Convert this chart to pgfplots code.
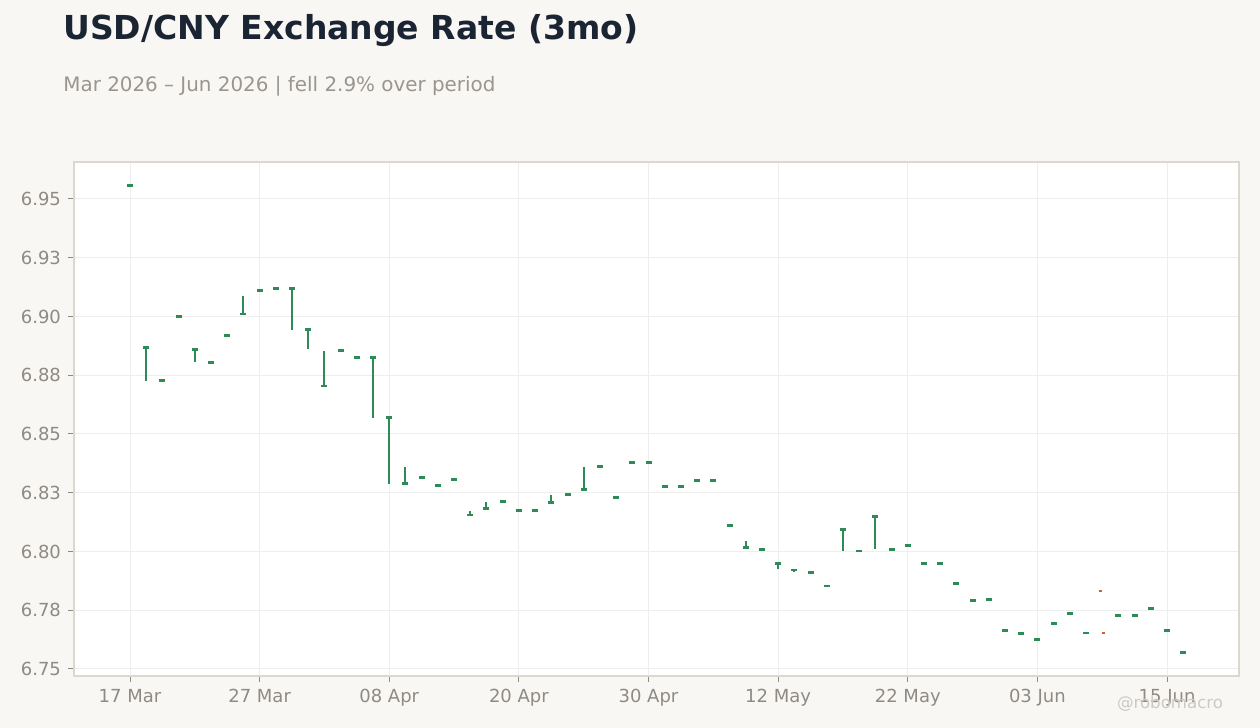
\documentclass[border=0pt]{standalone}
\usepackage{fontspec}
\setmainfont{DejaVu Sans}
\usepackage{pgfplots}
\pgfplotsset{compat=1.18}
\usepackage{pgfplotstable}
\definecolor{bg}{HTML}{F8F7F4}
\definecolor{upc}{HTML}{2E8B57}
\definecolor{dnc}{HTML}{D9573B}
\definecolor{titlec}{HTML}{1B2433}
\definecolor{subc}{HTML}{9A9590}
\definecolor{tickc}{HTML}{8F8A85}
\definecolor{framec}{HTML}{DDD8CF}
\definecolor{gridc}{HTML}{EEEEEE}
\definecolor{wmc}{HTML}{CDC9C4}

\pgfplotstableread{
x o h l c
0 6.9557 6.9557 6.9557 6.9557
1 6.8867 6.8867 6.8727 6.8867
2 6.8727 6.8727 6.8727 6.8727
3 6.8999 6.8999 6.8999 6.8999
4 6.8859 6.8859 6.8805 6.8859
5 6.8803 6.8803 6.8803 6.8803
6 6.8918 6.8918 6.8918 6.8918
7 6.9011 6.9087 6.9011 6.9011
8 6.9110 6.9110 6.9110 6.9110
9 6.9118 6.9118 6.9118 6.9118
10 6.9118 6.9118 6.8944 6.9118
11 6.8944 6.8944 6.8863 6.8944
12 6.8704 6.8853 6.8704 6.8704
13 6.8854 6.8854 6.8854 6.8854
14 6.8825 6.8825 6.8825 6.8825
15 6.8825 6.8825 6.8570 6.8825
16 6.8570 6.8570 6.8289 6.8570
17 6.8289 6.8360 6.8289 6.8289
18 6.8314 6.8314 6.8314 6.8314
19 6.8280 6.8280 6.8280 6.8280
20 6.8306 6.8306 6.8306 6.8306
21 6.8155 6.8172 6.8155 6.8155
22 6.8182 6.8211 6.8182 6.8182
23 6.8212 6.8212 6.8212 6.8212
24 6.8174 6.8174 6.8174 6.8174
25 6.8174 6.8174 6.8174 6.8174
26 6.8208 6.8240 6.8208 6.8208
27 6.8242 6.8242 6.8242 6.8242
28 6.8263 6.8360 6.8263 6.8263
29 6.8361 6.8361 6.8361 6.8361
30 6.8229 6.8229 6.8229 6.8229
31 6.8378 6.8378 6.8378 6.8378
32 6.8378 6.8378 6.8378 6.8378
33 6.8276 6.8276 6.8276 6.8276
34 6.8276 6.8276 6.8276 6.8276
35 6.8301 6.8301 6.8301 6.8301
36 6.8301 6.8301 6.8301 6.8301
37 6.8110 6.8110 6.8110 6.8110
38 6.8016 6.8045 6.8016 6.8016
39 6.8008 6.8008 6.8008 6.8008
40 6.7948 6.7948 6.7924 6.7948
41 6.7922 6.7922 6.7911 6.7922
42 6.7910 6.7910 6.7910 6.7910
43 6.7854 6.7854 6.7854 6.7854
44 6.8093 6.8093 6.8004 6.8093
45 6.8002 6.8002 6.8002 6.8002
46 6.8148 6.8148 6.8009 6.8148
47 6.8008 6.8008 6.8008 6.8008
48 6.8025 6.8025 6.8025 6.8025
49 6.7948 6.7948 6.7948 6.7948
50 6.7948 6.7948 6.7948 6.7948
51 6.7863 6.7863 6.7863 6.7863
52 6.7791 6.7791 6.7791 6.7791
53 6.7795 6.7795 6.7795 6.7795
54 6.7663 6.7663 6.7663 6.7663
55 6.7650 6.7650 6.7650 6.7650
56 6.7625 6.7625 6.7625 6.7625
57 6.7693 6.7693 6.7693 6.7693
58 6.7735 6.7735 6.7735 6.7735
59 6.7654 6.7654 6.7654 6.7654
61 6.7727 6.7727 6.7727 6.7727
62 6.7727 6.7727 6.7727 6.7727
63 6.7757 6.7757 6.7757 6.7757
64 6.7663 6.7663 6.7663 6.7663
65 6.7569 6.7569 6.7569 6.7569
}\up

\pgfplotstableread{
x c
59.88 6.7833
60.07 6.7654
}\down

\begin{document}
\begin{tikzpicture}
\fill[bg] (0,0) rectangle (630pt,364pt);
\useasboundingbox (0,0) rectangle (630pt,364pt);
\node[anchor=base west, inner sep=0pt, text=titlec, font=\fontsize{16.5}{19}\selectfont\bfseries] at (31.5pt,344.4pt) {USD/CNY Exchange Rate (3mo)};
\node[anchor=base west, inner sep=0pt, text=subc, font=\fontsize{9.95}{12}\selectfont] at (31.5pt,318.2pt) {Mar 2026 – Jun 2026 | fell 2.9\% over period};
\begin{axis}[
  at={(37pt,26pt)}, anchor=south west,
  scale only axis, width=582.5pt, height=257pt,
  xmin=-3.456, xmax=68.44,
  ymin=6.74702, ymax=6.96574,
  axis background/.style={fill=white},
  axis line style={framec, line width=0.6pt},
  xtick={0,8,16,24,32,40,48,56,64},
  xticklabels={17 Mar,27 Mar,08 Apr,20 Apr,30 Apr,12 May,22 May,03 Jun,15 Jun},
  ytick={6.75,6.775,6.8,6.825,6.85,6.875,6.9,6.925,6.95},
  yticklabels={6.75,6.78,6.80,6.83,6.85,6.88,6.90,6.93,6.95},
  tick align=outside, major tick length=3pt,
  tick style={tickc, line width=0.5pt},
  xtick pos=bottom, ytick pos=left,
  ticklabel style={font=\fontsize{9}{11}\selectfont, text=tickc},
  grid=major, major grid style={gridc, line width=0.5pt},
  clip=false,
]
% wicks: low -> high segments
\addplot[upc, line width=1pt, line cap=butt,
  quiver={u=0, v=\thisrow{h}-\thisrow{l}}]
  table[x=x, y=l] {\up};
% bodies
\addplot[upc, only marks, mark=-, mark size=1.5pt, mark options={line width=1.3pt}]
  table[x=x, y=c] {\up};
\addplot[dnc, only marks, mark=-, mark size=0.8pt, mark options={line width=1.1pt}]
  table[x=x, y=c] {\down};
\end{axis}
\node[text=wmc, font=\fontsize{8.3}{10}\selectfont, inner sep=0pt] at (585pt,12pt) {@robomacro};
\end{tikzpicture}
\end{document}
